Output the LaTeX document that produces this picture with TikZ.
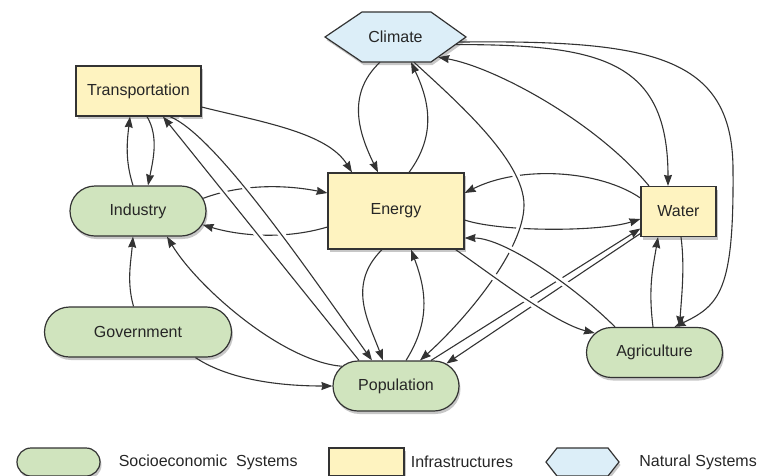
\documentclass[tikz,border=0pt]{standalone}
\usepackage{fontspec}
\setmainfont{Liberation Sans}
\usetikzlibrary{arrows.meta,shapes.misc,shadows,positioning,calc}
\definecolor{socgreen}{RGB}{208,228,190}
\definecolor{infyellow}{RGB}{254,243,192}
\definecolor{natblue}{RGB}{220,238,248}
\definecolor{edgegray}{RGB}{51,51,51}

\begin{document}
\begin{tikzpicture}[x=1pt,y=-1pt]
\tikzstyle{every node}=[font=\fontsize{16}{19}\selectfont,text=black!85,inner sep=0pt];
\tikzstyle{nodeshadow}=[drop shadow={shadow xshift=1.5pt,shadow yshift=-3pt,fill=black,opacity=0.22}];
\tikzstyle{socio}=[rounded rectangle,draw=edgegray,line width=1.2pt,fill=socgreen,minimum height=50pt];
\tikzstyle{infra}=[rectangle,draw=edgegray,line width=1.2pt,fill=infyellow,minimum height=50pt];
\tikzstyle{natural}=[draw=edgegray,line width=1.2pt,fill=natblue];
\tikzstyle{conn}=[draw=edgegray,line width=1.1pt,-{Stealth[length=11pt,width=8pt,inset=1pt]}];
\tikzstyle{bridge}=[preaction={draw=white,line width=7pt,-,shorten <=9pt,shorten >=9pt}];
\useasboundingbox (0,0) rectangle (762,475);
\clip (0,0) rectangle (762,475);
% systems
\filldraw[natural,nodeshadow] (325,37) -- (362,12) -- (431,12) -- (466,37) -- (431,62) -- (362,62) -- cycle;
\node[minimum width=141pt,minimum height=50pt] (climate) at (395.5,37) {Climate};
\node[infra,nodeshadow,minimum width=125pt] (transportation) at (138.5,91) {Transportation};
\node[socio,nodeshadow,minimum width=136pt] (industry) at (138,211) {Industry};
\node[infra,nodeshadow,minimum width=136pt,minimum height=76pt] (energy) at (396,211) {Energy};
\node[infra,nodeshadow,minimum width=75pt] (water) at (678.5,211.5) {Water};
\node[socio,nodeshadow,minimum width=187pt] (government) at (138,332) {Government};
\node[socio,nodeshadow,minimum width=126pt] (population) at (396,386) {Population};
\node[socio,nodeshadow,minimum width=136pt] (agriculture) at (654.5,352.5) {Agriculture};
% legend
\node[socio,nodeshadow,minimum width=83pt,minimum height=28pt] (legsocio) at (58.5,462) {};
\node[right=18pt of legsocio] (legsociotext) {Socioeconomic\ \ Systems};
\node[infra,nodeshadow,minimum width=75pt,minimum height=28pt] (leginfra) at (366.5,462) {};
\node[right=6pt of leginfra] (leginfratext) {Infrastructures};
\filldraw[natural,nodeshadow] (546,462) -- (557,448) -- (608,448) -- (619,462) -- (608,476) -- (557,476) -- cycle;
\node[minimum width=73pt,minimum height=28pt] (legnatural) at (582.5,462) {};
\node[right=20pt of legnatural] (legnaturaltext) {Natural Systems};
% points on the lower right side of climate
\coordinate (climsideA) at ($(climate.east)!0.2!([xshift=-35pt]climate.south east)$);
\coordinate (climsideB) at ($(climate.east)!0.3!([xshift=-35pt]climate.south east)$);
\coordinate (climsideC) at ($(climate.east)!0.8!([xshift=-35pt]climate.south east)$);
% plain links
\draw[conn] ([xshift=-15.5pt]climate.south) .. controls +(-35,33) and +(-18,-37) .. ([xshift=-18pt]energy.north);
\draw[conn] ([xshift=13pt]energy.north) .. controls +(28,-38) and +(18,38) .. ([xshift=15.5pt]climate.south);
\draw[conn] (climsideB) .. controls +(145,0) and +(0,-126) .. ([xshift=-10.5pt]water.north);
\draw[conn] ([xshift=-29.5pt]water.north) .. controls +(-54,-65) and +(56,10) .. (climsideC);
\draw[conn] (climsideA) .. controls (650,40) and (733,55) .. (733,170) .. controls (734,290) and (720,305) .. ([xshift=20pt]agriculture.north);
\draw[conn] ([xshift=2.5pt]water.south) .. controls +(4,30) and +(2,-30) .. ([xshift=25pt]agriculture.north);
\draw[conn] ([xshift=-1.5pt]agriculture.north) .. controls +(-5,-40) and +(-5,30) .. ([xshift=-20.5pt]water.south);
\draw[conn] ([yshift=-9pt]energy.east) .. controls +(36,12) and +(-41,13) .. ([yshift=-7.5pt]water.west);
\draw[conn] ([yshift=13.5pt]water.west) .. controls +(-41,-28) and +(56,-28) .. ([yshift=18pt]energy.east);
\draw[conn] ([xshift=35pt]population.north) -- ([yshift=-17pt]water.west);
\draw[conn] ([yshift=-22pt]water.west) -- (population.24);
\draw[conn] ([xshift=-14pt]energy.south) .. controls +(-35,35) and +(-15,-40) .. ([xshift=-13pt]population.north);
\draw[conn] ([xshift=10pt]population.north) .. controls +(25,-40) and +(15,40) .. ([xshift=15pt]energy.south);
\draw[conn] ([yshift=-16pt]transportation.east) .. controls +(60,15) and +(-25,-40) .. ([xshift=-44pt]energy.north);
\draw[conn] ([xshift=8.5pt]transportation.south) .. controls +(12,20) and +(5,-25) .. ([xshift=10pt]industry.north);
\draw[conn] ([xshift=-5pt]industry.north) .. controls +(-8,-25) and +(-3,25) .. ([xshift=-8.5pt]transportation.south);
\draw[conn] (industry.11) .. controls +(40,-15) and +(-40,-8) .. ([yshift=18pt]energy.west);
\draw[conn] ([yshift=-16pt]energy.west) .. controls +(-40,12) and +(40,12) .. (industry.-12);
\draw[conn] (population.160) .. controls +(-60,-5) and +(30,50) .. ([xshift=29pt]industry.south);
\draw[conn] ([xshift=-4.5pt]government.north) .. controls +(-7,-25) and +(-2,25) .. ([xshift=-5pt]industry.south);
\draw[conn] ([xshift=57.5pt]government.south) .. controls +(30,20) and +(-60,0) .. (population.west);
% links drawn over the others
\draw[conn,bridge] ([xshift=18.5pt]climate.south) .. controls (455,100) and (524,160) .. (524,205) .. controls (524,250) and (465,320) .. ([xshift=24pt]population.north);
\draw[conn,bridge] ([xshift=31.5pt]transportation.south) .. controls +(45,19) and +(-72,-101) .. ([xshift=-24pt]population.north);
\draw[conn,bridge] ([xshift=-37pt]population.north) -- ([xshift=24.5pt]transportation.south);
\draw[conn,bridge] ([xshift=-9pt]energy.south east) .. controls +(40,28) and +(-40,-10) .. (agriculture.162);
\draw[conn,bridge] ([xshift=-39.5pt]agriculture.north) .. controls +(-40,-40) and +(40,0) .. ([yshift=-27pt]energy.east);
\end{tikzpicture}
\end{document}
